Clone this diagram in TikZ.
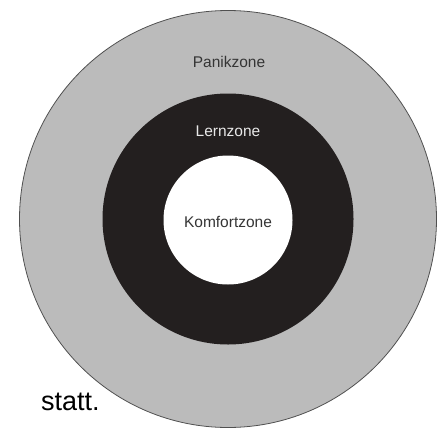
\documentclass[tikz,border=0pt]{standalone}
\usepackage{fontspec}
\setmainfont{Liberation Sans}
\definecolor{panikgray}{HTML}{BBBBBB}
\definecolor{rimgray}{HTML}{505050}
\definecolor{lernblack}{HTML}{231F1F}
\definecolor{labeldark}{HTML}{353535}
\definecolor{labellight}{HTML}{E8E8E8}
\tikzset{
    zonelabel/.style={font=\fontsize{15.5}{18}\selectfont, inner sep=0pt}
}
\begin{document}
\begin{tikzpicture}[x=1pt, y=-1pt]
    \useasboundingbox (0,0) rectangle (446,428);

    % Panikzone (outer ring)
    \fill[panikgray, draw=rimgray, line width=0.8pt] (228,219) circle (208.5);
    \node[zonelabel, labeldark] (panik) at (229,62) {Panikzone};

    % Lernzone (black ring)
    \fill[lernblack] (228,219) circle (125.5);
    \node[zonelabel, labellight] (lern) at (228,131) {Lernzone};

    % Komfortzone (white core)
    \fill[white] (228,220) circle (64.5);
    \node[zonelabel, labeldark] (komfort) at (228,222) {Komfortzone};

    % text fragment at the lower left
    \node[font=\fontsize{27}{30}\selectfont, inner sep=0pt, anchor=base west] (statt) at (41,410) {statt.};
\end{tikzpicture}
\end{document}
